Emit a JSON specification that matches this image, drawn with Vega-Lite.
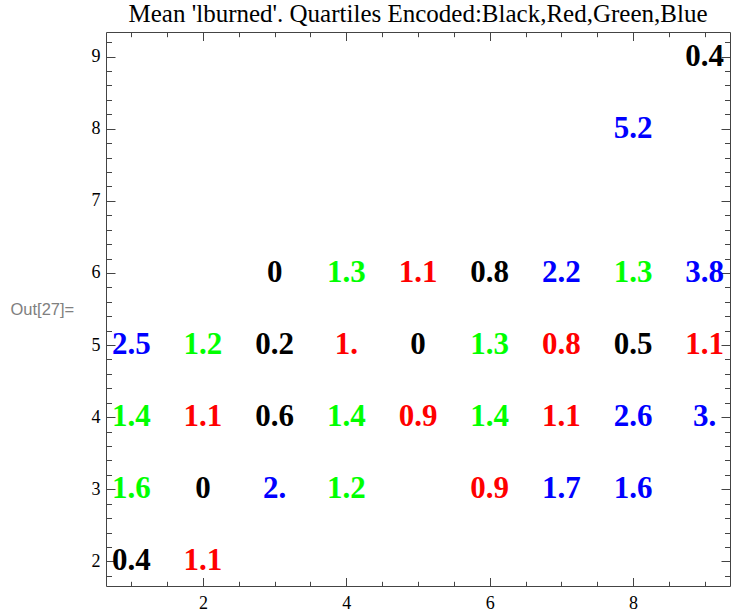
{
  "$schema": "https://vega.github.io/schema/vega-lite/v6.json",
  "width": 624,
  "height": 554,
  "autosize": {"type": "none"},
  "padding": {"left": 106, "top": 32, "right": 1, "bottom": 26},
  "title": {
    "text": "Mean 'lburned'. Quartiles Encoded:Black,Red,Green,Blue",
    "font": "Liberation Serif",
    "fontSize": 25,
    "fontWeight": "normal",
    "color": "#000000",
    "anchor": "middle",
    "offset": 5
  },
  "config": {
    "view": {"stroke": "#444444", "strokeWidth": 1},
    "axis": {
      "grid": false,
      "domain": false,
      "tickColor": "#444444",
      "tickWidth": 1,
      "labelFont": "Liberation Serif",
      "labelFontSize": 18,
      "labelColor": "#000000",
      "title": null
    }
  },
  "data": {
    "values": [
      {"x": 9, "y": 9, "label": "0.4", "q": "Black"},
      {"x": 8, "y": 8, "label": "5.2", "q": "Blue"},
      {"x": 3, "y": 6, "label": "0", "q": "Black"},
      {"x": 4, "y": 6, "label": "1.3", "q": "Green"},
      {"x": 5, "y": 6, "label": "1.1", "q": "Red"},
      {"x": 6, "y": 6, "label": "0.8", "q": "Black"},
      {"x": 7, "y": 6, "label": "2.2", "q": "Blue"},
      {"x": 8, "y": 6, "label": "1.3", "q": "Green"},
      {"x": 9, "y": 6, "label": "3.8", "q": "Blue"},
      {"x": 1, "y": 5, "label": "2.5", "q": "Blue"},
      {"x": 2, "y": 5, "label": "1.2", "q": "Green"},
      {"x": 3, "y": 5, "label": "0.2", "q": "Black"},
      {"x": 4, "y": 5, "label": "1.", "q": "Red"},
      {"x": 5, "y": 5, "label": "0", "q": "Black"},
      {"x": 6, "y": 5, "label": "1.3", "q": "Green"},
      {"x": 7, "y": 5, "label": "0.8", "q": "Red"},
      {"x": 8, "y": 5, "label": "0.5", "q": "Black"},
      {"x": 9, "y": 5, "label": "1.1", "q": "Red"},
      {"x": 1, "y": 4, "label": "1.4", "q": "Green"},
      {"x": 2, "y": 4, "label": "1.1", "q": "Red"},
      {"x": 3, "y": 4, "label": "0.6", "q": "Black"},
      {"x": 4, "y": 4, "label": "1.4", "q": "Green"},
      {"x": 5, "y": 4, "label": "0.9", "q": "Red"},
      {"x": 6, "y": 4, "label": "1.4", "q": "Green"},
      {"x": 7, "y": 4, "label": "1.1", "q": "Red"},
      {"x": 8, "y": 4, "label": "2.6", "q": "Blue"},
      {"x": 9, "y": 4, "label": "3.", "q": "Blue"},
      {"x": 1, "y": 3, "label": "1.6", "q": "Green"},
      {"x": 2, "y": 3, "label": "0", "q": "Black"},
      {"x": 3, "y": 3, "label": "2.", "q": "Blue"},
      {"x": 4, "y": 3, "label": "1.2", "q": "Green"},
      {"x": 6, "y": 3, "label": "0.9", "q": "Red"},
      {"x": 7, "y": 3, "label": "1.7", "q": "Blue"},
      {"x": 8, "y": 3, "label": "1.6", "q": "Blue"},
      {"x": 1, "y": 2, "label": "0.4", "q": "Black"},
      {"x": 2, "y": 2, "label": "1.1", "q": "Red"}
    ]
  },
  "layer": [
    {
      "mark": {"type": "text", "font": "Liberation Serif", "fontWeight": "bold", "fontSize": 31, "align": "center", "baseline": "middle"},
      "encoding": {
        "x": {"field": "x", "type": "quantitative", "scale": {"domain": [0.647, 9.353], "nice": false, "zero": false},
          "axis": {"orient": "bottom", "values": [2, 4, 6, 8], "ticks": false, "labelPadding": 8, "labelFont": "Liberation Serif", "labelFontSize": 18, "labelColor": "#000000", "title": null}},
        "y": {"field": "y", "type": "quantitative", "scale": {"domain": [1.66, 9.34], "nice": false, "zero": false},
          "axis": {"orient": "left", "values": [2, 3, 4, 5, 6, 7, 8, 9], "ticks": false, "labelPadding": 6, "labelFont": "Liberation Serif", "labelFontSize": 18, "labelColor": "#000000",
            "title": "Out[27]=", "titleAngle": 0, "titleAlign": "left", "titleBaseline": "middle", "titleX": -96, "titleY": 277,
            "titleFont": "Liberation Sans", "titleFontSize": 16.5, "titleFontWeight": "normal", "titleColor": "#808080"}},
        "text": {"field": "label", "type": "nominal"},
        "color": {"field": "q", "type": "nominal", "scale": {"domain": ["Black", "Red", "Green", "Blue"], "range": ["#000000", "#FF0000", "#00FF00", "#0000FF"]}, "legend": null}
      }
    },
    {
      "mark": {"type": "point", "opacity": 0},
      "encoding": {
        "x": {"field": "x", "type": "quantitative", "scale": {"domain": [0.647, 9.353], "nice": false, "zero": false},
          "axis": {"orient": "bottom", "values": [2, 4, 6, 8], "labels": false, "tickSize": -8.5, "title": null}},
        "y": {"field": "y", "type": "quantitative", "scale": {"domain": [1.66, 9.34], "nice": false, "zero": false},
          "axis": {"orient": "left", "values": [2, 3, 4, 5, 6, 7, 8, 9], "labels": false, "tickSize": -9, "title": null}}
      }
    },
    {
      "mark": {"type": "point", "opacity": 0},
      "encoding": {
        "x": {"field": "x", "type": "quantitative", "scale": {"domain": [0.647, 9.353], "nice": false, "zero": false},
          "axis": {"orient": "bottom", "values": [1, 1.5, 2.5, 3, 3.5, 4.5, 5, 5.5, 6.5, 7, 7.5, 8.5, 9], "labels": false, "tickSize": -4.7, "title": null}},
        "y": {"field": "y", "type": "quantitative", "scale": {"domain": [1.66, 9.34], "nice": false, "zero": false},
          "axis": {"orient": "left", "values": [1.8, 2.2, 2.4, 2.6, 2.8, 3.2, 3.4, 3.6, 3.8, 4.2, 4.4, 4.6, 4.8, 5.2, 5.4, 5.6, 5.8, 6.2, 6.4, 6.6, 6.8, 7.2, 7.4, 7.6, 7.8, 8.2, 8.4, 8.6, 8.8, 9.2], "labels": false, "tickSize": -5.5, "title": null}}
      }
    },
    {
      "mark": {"type": "point", "opacity": 0},
      "encoding": {
        "x": {"field": "x", "type": "quantitative", "scale": {"domain": [0.647, 9.353], "nice": false, "zero": false},
          "axis": {"orient": "top", "values": [2, 4, 6, 8], "labels": false, "tickSize": -8.5, "title": null}},
        "y": {"field": "y", "type": "quantitative", "scale": {"domain": [1.66, 9.34], "nice": false, "zero": false},
          "axis": {"orient": "right", "values": [2, 3, 4, 5, 6, 7, 8, 9], "labels": false, "tickSize": -9, "title": null}}
      }
    },
    {
      "mark": {"type": "point", "opacity": 0},
      "encoding": {
        "x": {"field": "x", "type": "quantitative", "scale": {"domain": [0.647, 9.353], "nice": false, "zero": false},
          "axis": {"orient": "top", "values": [1, 1.5, 2.5, 3, 3.5, 4.5, 5, 5.5, 6.5, 7, 7.5, 8.5, 9], "labels": false, "tickSize": -4.7, "title": null}},
        "y": {"field": "y", "type": "quantitative", "scale": {"domain": [1.66, 9.34], "nice": false, "zero": false},
          "axis": {"orient": "right", "values": [1.8, 2.2, 2.4, 2.6, 2.8, 3.2, 3.4, 3.6, 3.8, 4.2, 4.4, 4.6, 4.8, 5.2, 5.4, 5.6, 5.8, 6.2, 6.4, 6.6, 6.8, 7.2, 7.4, 7.6, 7.8, 8.2, 8.4, 8.6, 8.8, 9.2], "labels": false, "tickSize": -5.5, "title": null}}
      }
    }
  ],
  "resolve": {"axis": {"x": "independent", "y": "independent"}}
}
